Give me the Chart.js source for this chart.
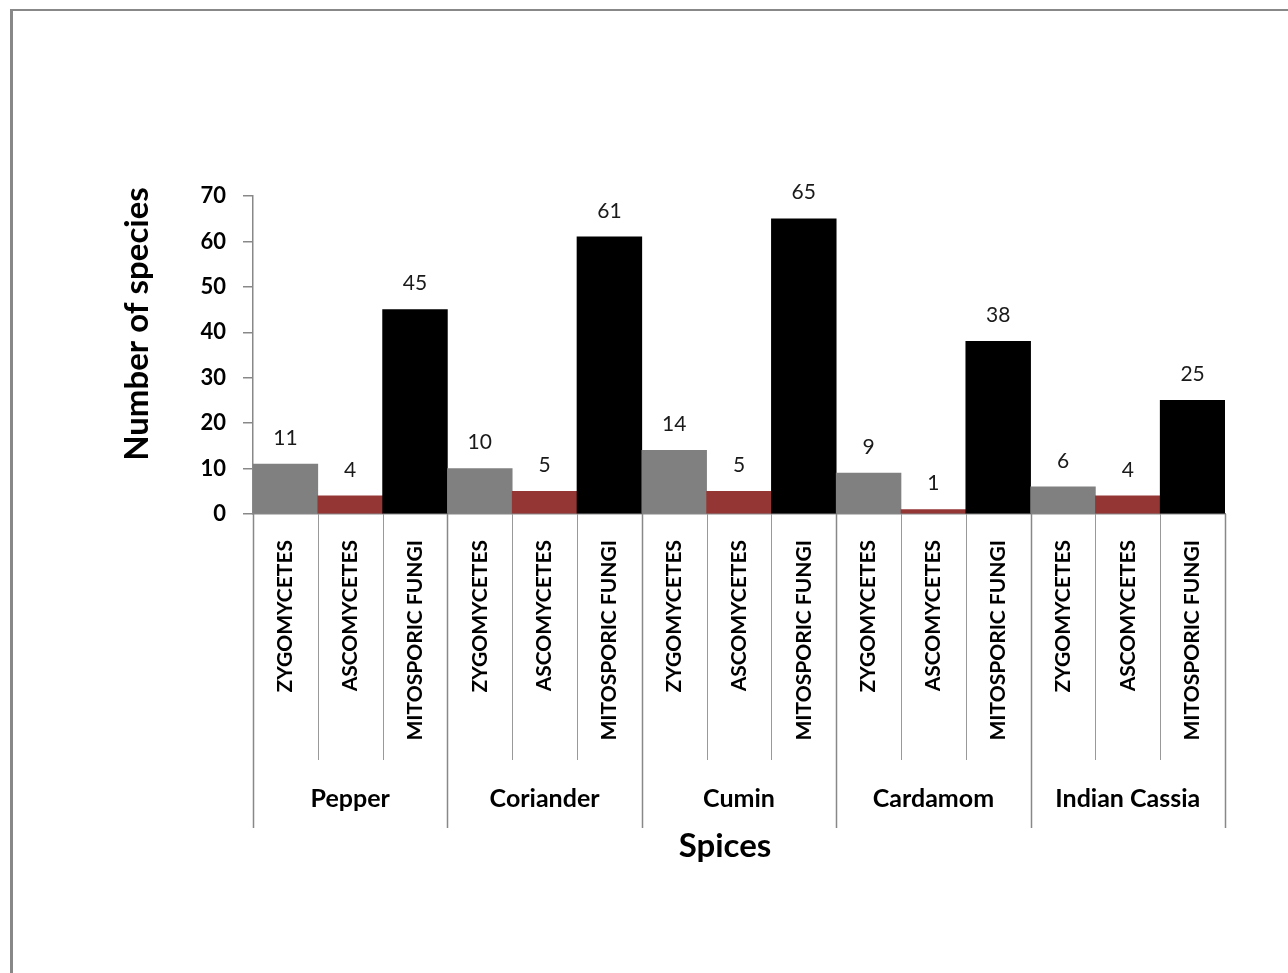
<!DOCTYPE html>
<html>
<head>
<meta charset="utf-8">
<script src="https://cdn.jsdelivr.net/npm/chart.js@4.4.1/dist/chart.umd.min.js"></script>
<style>
  html, body { margin: 0; padding: 0; background: #ffffff; }
  body { width: 1288px; height: 973px; position: relative; overflow: hidden; }
  #frame {
    position: absolute; left: 10px; top: 9px; width: 1400px; height: 1100px;
    border-top: 2px solid #888888; border-left: 3px solid #888888;
  }
  #chart { position: absolute; left: 0; top: 0; }
</style>
</head>
<body>
<div id="frame"></div>
<canvas id="chart" width="1288" height="973"></canvas>
<script>
// Fungal species isolated per spice
const spices = ['Pepper', 'Coriander', 'Cumin', 'Cardamom', 'Indian Cassia'];
const fungalGroups = ['ZYGOMYCETES', 'ASCOMYCETES', 'MITOSPORIC FUNGI'];
const zygomycetes = [11, 10, 14, 9, 6];
const ascomycetes = [4, 5, 5, 1, 4];
const mitosporicFungi = [45, 61, 65, 38, 25];
const yTicks = [0, 10, 20, 30, 40, 50, 60, 70];

const groupColors = ['#808080', '#943634', '#000000'];
const FONT = 'Lato, "Open Sans", sans-serif';

// One bar per (spice, fungal group), laid out spice by spice
const barLabels = [];
const barValues = [];
const barColors = [];
spices.forEach((s, i) => {
  const vals = [zygomycetes[i], ascomycetes[i], mitosporicFungi[i]];
  fungalGroups.forEach((g, j) => {
    barLabels.push(g);
    barValues.push(vals[j]);
    barColors.push(groupColors[j]);
  });
});

// Value labels above every bar
const valueLabels = {
  id: 'valueLabels',
  afterDatasetsDraw(chart) {
    const ctx = chart.ctx;
    const meta = chart.getDatasetMeta(0);
    ctx.save();
    ctx.font = '21px ' + FONT;
    ctx.fillStyle = '#1a1a1a';
    ctx.textAlign = 'center';
    ctx.textBaseline = 'middle';
    meta.data.forEach((bar, i) => {
      ctx.fillText(String(chart.data.datasets[0].data[i]), bar.x, bar.y - 26);
    });
    ctx.restore();
  }
};

// Category separators below the axis and the two axis titles
const axisDecor = {
  id: 'axisDecor',
  afterDraw(chart) {
    const ctx = chart.ctx;
    const x = chart.scales.x;
    const area = chart.chartArea;
    const n = barLabels.length;
    const step = x.getPixelForValue(1) - x.getPixelForValue(0);
    ctx.save();
    for (let i = 0; i <= n; i++) {
      const bx = Math.round(x.getPixelForValue(0) - step / 2 + i * step) + 0.5;
      const major = i % fungalGroups.length === 0;
      ctx.strokeStyle = major ? '#888888' : '#999999';
      ctx.lineWidth = major ? 1.5 : 1;
      ctx.beginPath();
      ctx.moveTo(bx, area.bottom);
      ctx.lineTo(bx, major ? 828 : 760);
      ctx.stroke();
    }
    ctx.fillStyle = '#000000';
    ctx.textAlign = 'center';
    ctx.textBaseline = 'middle';
    ctx.font = 'bold 33px ' + FONT;
    ctx.fillText('Spices', 725, 846);
    ctx.translate(137, 324);
    ctx.rotate(-Math.PI / 2);
    ctx.fillText('Number of species', 0, 0);
    ctx.restore();
  }
};

new Chart(document.getElementById('chart'), {
  type: 'bar',
  data: {
    labels: barLabels,
    datasets: [{
      data: barValues,
      backgroundColor: barColors,
      borderWidth: 0,
      categoryPercentage: 1.0,
      barPercentage: 1.0
    }]
  },
  options: {
    responsive: false,
    animation: false,
    layout: { padding: { left: 150, right: 63, top: 196, bottom: 107 } },
    plugins: { legend: { display: false }, tooltip: { enabled: false } },
    scales: {
      x: {
        position: 'bottom',
        grid: { display: false },
        border: { display: true, color: '#888888', width: 1.5 },
        ticks: {
          color: '#000000',
          font: { family: FONT, size: 21, weight: 'bold' },
          maxRotation: 90, minRotation: 90,
          padding: 18,
          autoSkip: false
        },
        afterFit(scale) { scale.height = 250; }
      },
      x2: {
        type: 'category',
        position: 'bottom',
        labels: spices,
        offset: true,
        grid: { display: false },
        border: { display: false },
        ticks: {
          color: '#000000',
          font: { family: FONT, size: 25, weight: 'bold' },
          padding: 12,
          maxRotation: 0
        },
        afterFit(scale) { scale.height = 102; }
      },
      y: {
        min: 0, max: 70,
        afterBuildTicks(scale) { scale.ticks = yTicks.map(v => ({ value: v })); },
        grid: { display: true, drawOnChartArea: false, drawTicks: true, tickLength: 10, color: '#888888', lineWidth: 1.5 },
        border: { display: true, color: '#888888', width: 1.5 },
        ticks: {
          color: '#000000',
          font: { family: FONT, size: 22, weight: 'bold' },
          padding: 17
        },
        afterFit(scale) { scale.width = 103; }
      }
    }
  },
  plugins: [valueLabels, axisDecor]
});
</script>
</body>
</html>
